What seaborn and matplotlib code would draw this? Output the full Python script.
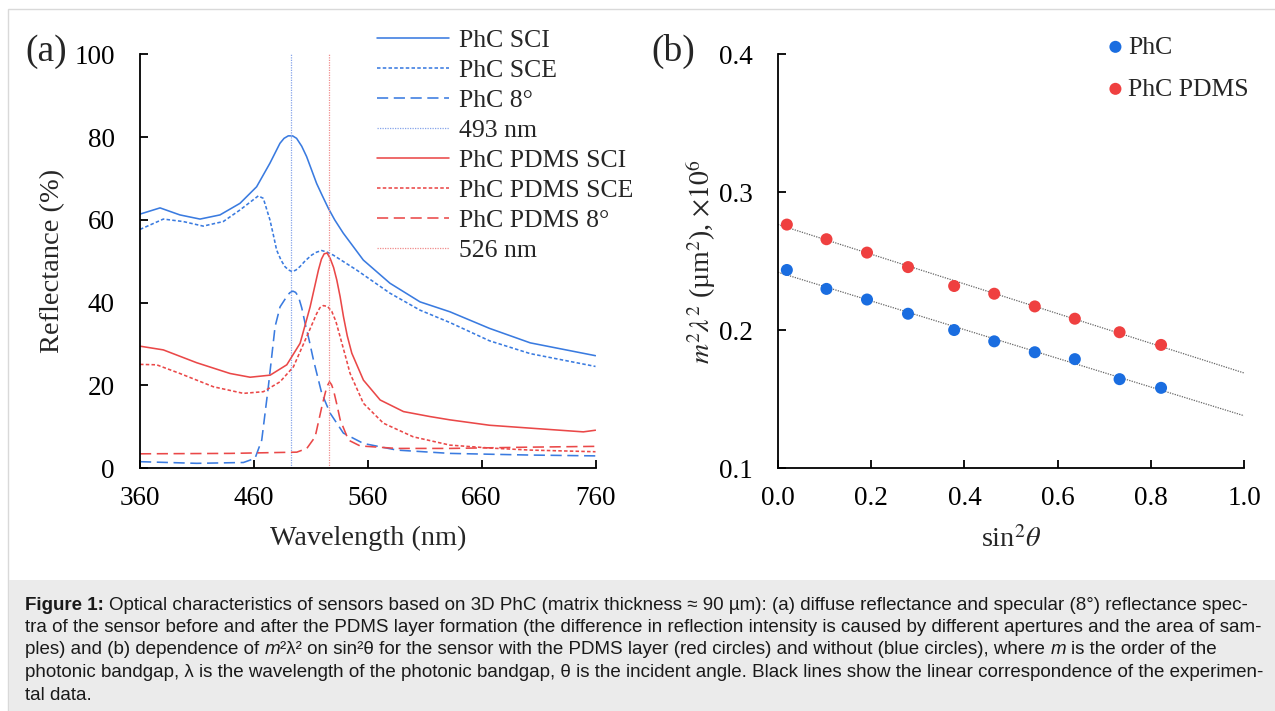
import numpy as np
import pandas as pd
import seaborn as sns
import matplotlib.pyplot as plt
from matplotlib.patches import Rectangle

# ---- panel (a): reflectance spectra ----
wl_sci = [360, 377.6, 395.1, 412.7, 430.2, 447.8, 462.4, 474.1, 482.9, 486.5, 490.2, 494,
          497.5, 502, 506.3, 510.5, 515.1, 520, 525.4, 531, 538.5, 556.1, 579.5, 605.9,
          632.2, 666.9, 702.7, 760]
phc_sci = [61.4, 62.9, 61.2, 60.2, 61.2, 64.0, 68.0, 73.7, 78.5, 79.7, 80.3, 80.3,
           79.7, 77.8, 75.3, 72.2, 68.8, 65.9, 62.8, 60.0, 56.8, 50.3, 44.7, 40.2,
           37.8, 33.8, 30.3, 27.2]

wl_sce = [360, 380.5, 398, 415.5, 433.1, 447.8, 463.9, 468.3, 474.1, 477, 480, 484, 487.3,
          490.5, 493.7, 497, 500.4, 505, 510.7, 515, 519.5, 524.5, 529.7, 550.2, 579.5,
          605.9, 632.2, 666.9, 702.7, 760]
phc_sce = [57.7, 60.2, 59.6, 58.5, 59.6, 62.4, 65.8, 65.2, 60.0, 56.5, 52.7, 50.2, 48.7,
           47.9, 47.5, 47.9, 48.7, 50.1, 51.5, 52.2, 52.6, 52.2, 51.5, 47.9, 42.3,
           38.2, 35.2, 30.8, 27.7, 24.6]

wl_8 = [360, 409.8, 450.8, 461, 466.9, 472.7, 478.6, 483, 488.9, 491.5, 494.2, 496.6,
        499.1, 502, 505, 508.5, 512.3, 519.6, 527, 538.6, 556.2, 585.5, 632.2, 666.9,
        702.7, 760]
phc_8 = [1.6, 1.2, 1.4, 2.4, 6.8, 19.7, 34.2, 39.0, 41.5, 42.4, 42.8, 42.5,
         41.5, 38.8, 35.0, 31.0, 26.2, 18.1, 13.3, 8.5, 6.0, 4.4, 3.6, 3.4,
         3.2, 3.0]

wl_psci = [360, 380.5, 409.8, 439.1, 456.7, 474.3, 488.9, 500.6, 509.4, 516.7, 519.3,
           521.7, 524.3, 527, 530, 532.8, 535.7, 538.7, 542, 546, 556.2, 570.9, 591.4,
           614.6, 632.2, 666.9, 702.7, 749.3, 760]
pdms_sci = [29.5, 28.6, 25.5, 22.9, 22.0, 22.5, 25.0, 30.2, 39.0, 47.9, 50.5,
            51.8, 52.0, 50.7, 48.5, 45.5, 41.5, 36.6, 32.0, 27.8, 21.3, 16.5, 13.7,
            12.5, 11.7, 10.4, 9.7, 8.8, 9.2]

wl_psce = [360, 374.6, 395.1, 424.4, 450.8, 468.3, 483, 494.7, 506.4, 515.2, 518, 521,
           524.7, 528.4, 532, 535.7, 540, 544.5, 556.2, 573.7, 600, 632.2, 666.9, 702.7, 760]
pdms_sce = [25.1, 25.0, 22.9, 19.7, 18.1, 18.5, 20.9, 24.5, 31.8, 37.4, 38.8, 39.3,
            39.1, 37.9, 35.5, 31.8, 27.5, 22.9, 15.7, 10.9, 7.6, 5.6, 4.9, 4.4, 4.0]

wl_p8 = [360, 439.1, 497.7, 506.5, 513.8, 519.7, 522.3, 524.1, 526.4, 528.2, 529.9, 532.8,
         535.8, 543.1, 553.3, 585.5, 632.2, 700, 760]
pdms_8 = [3.5, 3.6, 3.9, 4.8, 7.6, 14.9, 17.8, 19.7, 20.9, 20.2, 18.9, 15.5,
          11.7, 6.8, 5.4, 4.8, 4.8, 5.1, 5.3]

gap_phc = 493
gap_pdms = 526

# ---- panel (b): m^2 lambda^2 vs sin^2 theta ----
sin2 = [0.019, 0.104, 0.191, 0.279, 0.378, 0.464, 0.551, 0.637, 0.733, 0.822]
m2l2_phc = [0.2437, 0.2300, 0.2223, 0.2120, 0.2002, 0.1920, 0.1841, 0.1791, 0.1646, 0.1583]
m2l2_pdms = [0.2766, 0.2660, 0.2563, 0.2458, 0.2321, 0.2265, 0.2173, 0.2084, 0.1986, 0.1894]

blue = '#3a7be0'
red = '#ea4848'
blue_dot = '#1a6de0'
red_dot = '#ef4040'

sns.set_style('ticks')
plt.rcParams['font.family'] = ['Liberation Serif', 'DejaVu Serif']
plt.rcParams['mathtext.fontset'] = 'stix'

W, H = 1275, 711
fig = plt.figure(figsize=(W / 100, H / 100), dpi=100)

# frame and caption box
fig.patches.append(Rectangle((8 / W, 0), 1, 1 - 9 / H, transform=fig.transFigure,
                             facecolor='white', edgecolor='#d9d9d9', lw=1, zorder=-2))
fig.patches.append(Rectangle((8.5 / W, 0), 1, (H - 580) / H, transform=fig.transFigure,
                             facecolor='#ebebeb', edgecolor='none', zorder=-1))

ax1 = fig.add_axes([140 / W, 1 - 468.3 / H, 455.5 / W, 414 / H])
ax2 = fig.add_axes([778 / W, 1 - 468.3 / H, 466 / W, 414 / H])
for ax in (ax1, ax2):
    ax.set_facecolor('none')

lw = 1.15
sce_ls = (0, (2.2, 1.4))
deg_ls = (0, (7, 3.5))
sns.lineplot(x=wl_sci, y=phc_sci, ax=ax1, color=blue, lw=lw, label='PhC SCI')
sns.lineplot(x=wl_sce, y=phc_sce, ax=ax1, color=blue, lw=lw, linestyle=sce_ls, label='PhC SCE')
sns.lineplot(x=wl_8, y=phc_8, ax=ax1, color=blue, lw=lw, linestyle=deg_ls, label='PhC 8°')
ax1.axvline(gap_phc, color='#86a4ea', lw=0.9, linestyle=(0, (1, 1)), label=f'{gap_phc} nm')
sns.lineplot(x=wl_psci, y=pdms_sci, ax=ax1, color=red, lw=lw, label='PhC PDMS SCI')
sns.lineplot(x=wl_psce, y=pdms_sce, ax=ax1, color=red, lw=lw, linestyle=sce_ls, label='PhC PDMS SCE')
sns.lineplot(x=wl_p8, y=pdms_8, ax=ax1, color=red, lw=lw, linestyle=deg_ls, label='PhC PDMS 8°')
ax1.axvline(gap_pdms, color='#f08c8c', lw=0.9, linestyle=(0, (1, 1)), label=f'{gap_pdms} nm')

ax1.set_xlim(360, 760)
ax1.set_ylim(0, 100)
ax1.set_xticks([360, 460, 560, 660, 760])
ax1.set_yticks([0, 20, 40, 60, 80, 100])
ax1.set_xlabel('Wavelength (nm)', fontsize=20.3)
ax1.set_ylabel('Reflectance (%)', fontsize=20.5)
ax1.xaxis.set_label_coords(0.5, -0.14)
ax1.yaxis.set_label_coords(-0.165, 0.5)

h, l = ax1.get_legend_handles_labels()
ax1.legend(h, l, loc='upper left', bbox_to_anchor=(376.7 / W, 1 - 29.2 / H),
           bbox_transform=fig.transFigure, frameon=False, fontsize=18.5,
           handlelength=2.8, handletextpad=0.39, labelspacing=0.27, borderpad=0,
           borderaxespad=0)

# panel (b)
ax2.set_xlim(0, 1)
ax2.set_ylim(0.1, 0.4)
line_kw = dict(lw=0.9, linestyle=(0, (1, 1)))
sns.regplot(x=sin2, y=m2l2_pdms, ax=ax2, scatter=False, ci=None, truncate=False,
            color='#666666', line_kws=line_kw)
sns.regplot(x=sin2, y=m2l2_phc, ax=ax2, scatter=False, ci=None, truncate=False,
            color='#666666', line_kws=line_kw)
sns.scatterplot(x=sin2, y=m2l2_phc, ax=ax2, color=blue_dot, s=75, edgecolor='none',
                label='PhC', zorder=3)
sns.scatterplot(x=sin2, y=m2l2_pdms, ax=ax2, color=red_dot, s=75, edgecolor='none',
                label='PhC PDMS', zorder=3)
ax2.set_xlim(0, 1)
ax2.set_ylim(0.1, 0.4)
ax2.set_xticks(np.arange(0, 1.01, 0.2))
ax2.set_xticklabels([f'{v:.1f}' for v in np.arange(0, 1.01, 0.2)])
ax2.set_yticks([0.1, 0.2, 0.3, 0.4])
ax2.set_yticklabels(['0.1', '0.2', '0.3', '0.4'])
ax2.set_xlabel(r'sin$^2\theta$', fontsize=20.3)
ax2.set_ylabel(r'$m^2\lambda^2$ (µm$^2$), $\times10^6$', fontsize=20)
ax2.xaxis.set_label_coords(0.5, -0.14)
ax2.yaxis.set_label_coords(-0.129, 0.5)

h, l = ax2.get_legend_handles_labels()
ax2.legend(h, l, loc='upper left', bbox_to_anchor=(1109 / W, 1 - 35.6 / H),
           bbox_transform=fig.transFigure, frameon=False, fontsize=18.5,
           handlelength=0.5, handletextpad=0.24, labelspacing=0.74, borderpad=0,
           borderaxespad=0)

for ax in (ax1, ax2):
    sns.despine(ax=ax)
    for s in ('left', 'bottom'):
        ax.spines[s].set_linewidth(1.3)
        ax.spines[s].set_color('black')
    ax.tick_params(direction='in', length=5.5, width=1.3, labelsize=19.5, colors='black')
    ax.tick_params(axis='x', pad=12.5)
    ax.tick_params(axis='y', pad=18)

fig.text(46 / W, 1 - 51.7 / H, '(a)', fontsize=27, ha='center', va='center')
fig.text(673.5 / W, 1 - 51.7 / H, '(b)', fontsize=27, ha='center', va='center')

# caption
cap_font = ['Liberation Sans', 'DejaVu Sans']
cs = 13.5
renderer = fig.canvas.get_renderer()


def put(x, y, s, **kw):
    t = fig.text(x / W, 1 - y / H, s, fontsize=cs, family=cap_font, ha='left', va='center',
                 color='#1a1a1a', **kw)
    return x + t.get_window_extent(renderer=renderer).width


probe = fig.text(0, 0, 'x x', fontsize=cs, family=cap_font)
probe2 = fig.text(0, 0, 'xx', fontsize=cs, family=cap_font)
sp = probe.get_window_extent(renderer).width - probe2.get_window_extent(renderer).width
probe.remove()
probe2.remove()

x0 = 25
ys = [605, 627.5, 650, 672.5, 695]
x = put(x0, ys[0], 'Figure 1:', weight='bold')
put(x + sp, ys[0], 'Optical characteristics of sensors based on 3D PhC (matrix thickness ≈ 90 µm): '
    '(a) diffuse reflectance and specular (8°) reflectance spec-')
put(x0, ys[1], 'tra of the sensor before and after the PDMS layer formation (the difference in '
    'reflection intensity is caused by different apertures and the area of sam-')
x = put(x0, ys[2], 'ples) and (b) dependence of')
x = put(x + sp, ys[2], 'm', style='italic')
x = put(x, ys[2], '²λ² on sin²θ for the sensor with the PDMS layer (red circles) and without '
        '(blue circles), where')
x = put(x + sp, ys[2], 'm', style='italic')
put(x + sp, ys[2], 'is the order of the')
put(x0, ys[3], 'photonic bandgap, λ is the wavelength of the photonic bandgap, θ is the incident '
    'angle. Black lines show the linear correspondence of the experimen-')
put(x0, ys[4], 'tal data.')

fig.savefig('out.png', dpi=100)
